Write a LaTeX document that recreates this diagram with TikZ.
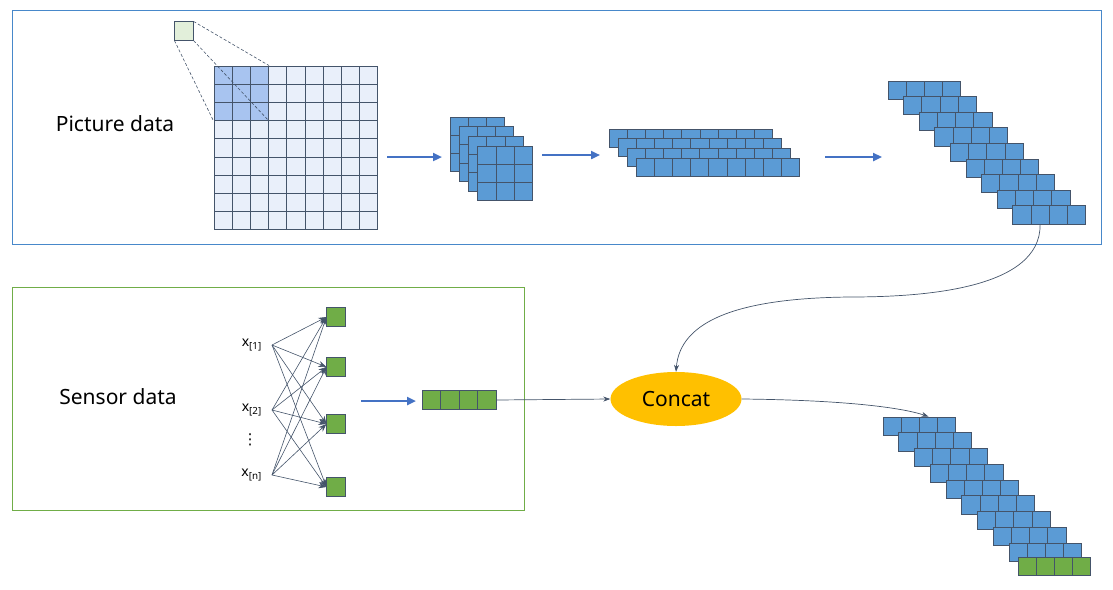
\documentclass[tikz,border=0pt]{standalone}
\usepackage{fontspec}
\setmainfont{Noto Sans}
\newfontfamily\dotsfont{DejaVu Sans}
\usetikzlibrary{arrows.meta,positioning,shapes.geometric}
\definecolor{cellblue}{RGB}{91,155,213}
\definecolor{cellgreen}{RGB}{112,173,71}
\definecolor{cellline}{RGB}{68,84,106}
\definecolor{gridlight}{RGB}{233,239,250}
\definecolor{gridmid}{RGB}{168,196,240}
\definecolor{kernelgreen}{RGB}{226,239,218}
\definecolor{arrowblue}{RGB}{68,114,196}
\definecolor{panelblue}{RGB}{72,136,202}
\definecolor{concatgold}{RGB}{255,192,0}

\begin{document}
\begin{tikzpicture}[x=1pt, y=-1pt,
  panel/.style={rectangle, draw, line width=1.2pt, anchor=north west, inner sep=0pt},
  cell/.style={rectangle, draw=cellline, line width=0.9pt, inner sep=0pt,
    minimum width=18.2pt, minimum height=18.2pt},
  bcell/.style={cell, fill=cellblue},
  gcell/.style={cell, fill=cellgreen},
  pix/.style={cell, fill=gridlight},
  hpix/.style={cell, fill=gridmid},
  title/.style={font=\fontsize{21}{25}\selectfont},
  inlabel/.style={font=\fontsize{14}{16}\selectfont, inner sep=0pt, anchor=east},
  guide/.style={draw=cellline, line width=0.6pt, dash pattern=on 3pt off 2pt},
  flow/.style={-{Triangle[length=9pt,width=8pt]}, line width=2.6pt, draw=arrowblue},
  wire/.style={-{Stealth[length=8pt,width=6pt]}, line width=0.6pt, draw=cellline},
  link/.style={-{Stealth[length=7pt,width=5pt]}, line width=0.7pt, draw=cellline}
]
\useasboundingbox (0,0) rectangle (1113,589);

\node[panel, draw=panelblue, minimum width=1089pt, minimum height=234pt] (picpanel) at (12,10) {};
\node[panel, draw=cellgreen, minimum width=512pt, minimum height=223pt] (senspanel) at (12,287) {};

\node[title] (pictitle) at (115,124) {Picture data};
\node[title] (senstitle) at (118,397) {Sensor data};

\foreach \r in {0,...,8}
  \foreach \c in {0,...,8}
    \node[pix] (g-\r-\c) at ({223.1+18.2*\c},{75.1+18.2*\r}) {};
\foreach \r in {0,1,2}
  \foreach \c in {0,1,2}
    \node[hpix] (g-\r-\c) at ({223.1+18.2*\c},{75.1+18.2*\r}) {};

\node[cell, fill=kernelgreen] (kern) at (184,31) {};
\draw[guide] (kern.south west) -- (g-2-0.south west);
\draw[guide] (kern.north east) -- (g-0-2.north east);
\draw[guide] (kern.south east) -- (g-2-2.south east);

\foreach \k in {0,...,3}
  \foreach \r in {0,1,2}
    \foreach \c in {0,1,2}
      \node[bcell] (f-\k-\r-\c) at ({459.1+9.3*\k+18.2*\c},{126.1+9.7*\k+18.2*\r}) {};

\foreach \k in {0,...,3}
  \foreach \c in {0,...,8}
    \node[bcell, minimum height=18pt] (v-\k-\c) at ({618.1+9*\k+18.2*\c},{138+9.7*\k}) {};

\foreach \k in {0,...,8}
  \foreach \c in {0,...,3}
    \node[bcell] (s-\k-\c) at ({897.1+15.6*\k+18.2*\c},{90.1+15.6*\k}) {};

\coordinate (a1) at (387,157);
\coordinate (a2) at (442,157);
\coordinate (a3) at (542,155);
\coordinate (a4) at (600,155);
\coordinate (a5) at (825,157);
\coordinate (a6) at (882,157);
\coordinate (a7) at (361,401);
\coordinate (a8) at (416,401);
\draw[flow] (a1) -- (a2);
\draw[flow] (a3) -- (a4);
\draw[flow] (a5) -- (a6);
\draw[flow] (a7) -- (a8);

\node[inlabel] (x1) at (262,345) {x\textsubscript{[1]}};
\node[inlabel] (x2) at (262,410) {x\textsubscript{[2]}};
\node[inlabel] (xn) at (262,475) {x\textsubscript{[n]}};
\node[font=\dotsfont\fontsize{15}{17}\selectfont, inner sep=0pt] (xdots) at (250,440) {⋮};

\node[gcell] (h1) at (336,317) {};
\node[gcell] (h2) at (336,367) {};
\node[gcell] (h3) at (336,424) {};
\node[gcell] (h4) at (336,487) {};

\foreach \i in {1,2,n}
  \foreach \j in {1,...,4}
    \draw[wire] ([xshift=10pt]x\i.east) -- (h\j.west);

\foreach \c in {0,...,3}
  \node[gcell, minimum width=18.5pt] (sv-\c) at ({431.25+18.5*\c},400) {};

\node[ellipse, fill=concatgold, minimum width=131pt, minimum height=54pt,
  font=\fontsize{21}{25}\selectfont] (concat) at (676,399) {Concat};

\foreach \k in {0,...,8}
  \foreach \c in {0,...,3}
    \node[bcell] (b-\k-\c) at ({892.1+15.75*\k+18.2*\c},{426.1+15.75*\k}) {};
\foreach \c in {0,...,3}
  \node[gcell] (bg-\c) at ({1027.1+18.2*\c},566.1) {};

\draw[link] (sv-3.east) -- (concat.west);
\draw[link] (s-8-1.south) .. controls (1041,290) and (920,297) .. (850,297)
  .. controls (740,298) and (680,320) .. (concat.north);
\draw[link] (concat.east) .. controls (840,400) and (900,407) .. (b-0-2.north);
\end{tikzpicture}
\end{document}
